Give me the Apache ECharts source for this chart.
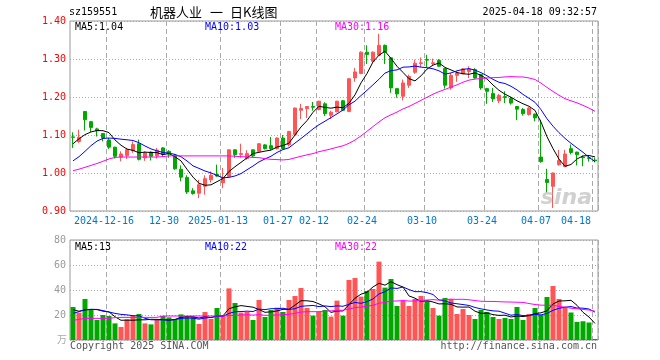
<!DOCTYPE html>
<html><head><meta charset="utf-8">
<script src="https://cdn.jsdelivr.net/npm/echarts@6/dist/echarts.min.js"></script>
<style>html,body{margin:0;padding:0;background:#fff}#c{width:660px;height:360px}</style>
</head><body><div id="c"></div>
<script>
const stockCode = 'sz159551';
const titleParts = ['机器人业', '一', '日K线图'];
const timeStamp = '2025-04-18 09:32:57';

const dates = [
 '2024-12-06','2024-12-09','2024-12-10','2024-12-11','2024-12-12','2024-12-13',
 '2024-12-16','2024-12-17','2024-12-18','2024-12-19','2024-12-20',
 '2024-12-23','2024-12-24','2024-12-25','2024-12-26','2024-12-27',
 '2024-12-30','2024-12-31','2025-01-02','2025-01-03',
 '2025-01-06','2025-01-07','2025-01-08','2025-01-09','2025-01-10',
 '2025-01-13','2025-01-14','2025-01-15','2025-01-16','2025-01-17',
 '2025-01-20','2025-01-21','2025-01-22','2025-01-23','2025-01-24',
 '2025-01-27',
 '2025-02-05','2025-02-06','2025-02-07',
 '2025-02-10','2025-02-11','2025-02-12','2025-02-13','2025-02-14',
 '2025-02-17','2025-02-18','2025-02-19','2025-02-20','2025-02-21',
 '2025-02-24','2025-02-25','2025-02-26','2025-02-27','2025-02-28',
 '2025-03-03','2025-03-04','2025-03-05','2025-03-06','2025-03-07',
 '2025-03-10','2025-03-11','2025-03-12','2025-03-13','2025-03-14',
 '2025-03-17','2025-03-18','2025-03-19','2025-03-20','2025-03-21',
 '2025-03-24','2025-03-25','2025-03-26','2025-03-27','2025-03-28',
 '2025-03-31','2025-04-01','2025-04-02','2025-04-03',
 '2025-04-07','2025-04-08','2025-04-09','2025-04-10','2025-04-11',
 '2025-04-14','2025-04-15','2025-04-16','2025-04-17','2025-04-18'
];

const opens = [
 1.095,1.083,1.162,1.135,1.116,1.104,1.087,1.068,1.042,1.046,
 1.058,1.077,1.040,1.055,1.045,1.066,1.057,1.046,1.010,0.988,
 0.953,0.947,0.965,0.982,0.996,0.974,0.991,1.061,1.049,1.038,
 1.061,1.057,1.074,1.072,1.064,1.092,1.074,1.101,1.165,1.169,
 1.175,1.167,1.182,1.152,1.161,1.190,1.162,1.250,1.262,1.318,
 1.294,1.310,1.336,1.303,1.222,1.202,1.231,1.265,1.288,1.299,
 1.288,1.296,1.275,1.224,1.257,1.261,1.267,1.272,1.259,1.222,
 1.209,1.190,1.201,1.196,1.175,1.167,1.154,1.155,1.042,0.983,
 0.965,1.022,1.017,1.064,1.055,1.042,1.040,1.034
];
const closes = [
 1.094,1.094,1.140,1.120,1.111,1.092,1.068,1.044,1.050,1.061,
 1.075,1.036,1.053,1.044,1.060,1.049,1.050,1.011,0.989,0.950,
 0.946,0.969,0.985,0.994,0.992,0.988,1.061,1.048,1.051,1.051,
 1.045,1.077,1.064,1.064,1.092,1.064,1.109,1.171,1.170,1.175,
 1.173,1.189,1.156,1.160,1.189,1.165,1.248,1.266,1.318,1.312,
 1.318,1.336,1.318,1.224,1.208,1.237,1.254,1.289,1.290,1.297,
 1.290,1.281,1.231,1.257,1.263,1.274,1.274,1.250,1.224,1.215,
 1.195,1.204,1.199,1.184,1.168,1.156,1.171,1.145,1.030,0.975,
 1.000,1.033,1.050,1.054,1.048,1.040,1.038,1.032
];
const lows = [
 1.066,1.079,1.112,1.108,1.096,1.083,1.063,1.038,1.031,1.037,
 1.053,1.033,1.032,1.033,1.038,1.042,1.040,1.008,0.978,0.945,
 0.943,0.934,0.943,0.975,0.990,0.960,0.990,1.040,1.040,1.035,
 1.042,1.056,1.062,1.061,1.062,1.062,1.070,1.100,1.142,1.145,
 1.164,1.165,1.150,1.142,1.160,1.163,1.160,1.240,1.260,1.287,
 1.292,1.308,1.287,1.211,1.198,1.191,1.224,1.261,1.279,1.279,
 1.283,1.279,1.222,1.219,1.240,1.260,1.250,1.248,1.219,1.182,
 1.187,1.184,1.184,1.180,1.139,1.151,1.151,1.136,1.027,0.949,
 0.908,1.019,1.015,1.049,1.020,1.018,1.030,1.028
];
const highs = [
 1.107,1.114,1.162,1.137,1.119,1.105,1.092,1.069,1.057,1.066,
 1.083,1.088,1.057,1.057,1.066,1.068,1.060,1.050,1.020,0.994,
 0.960,0.982,0.994,1.004,1.022,1.013,1.062,1.062,1.077,1.060,
 1.062,1.078,1.076,1.095,1.094,1.100,1.111,1.172,1.182,1.176,
 1.187,1.190,1.186,1.164,1.190,1.192,1.250,1.276,1.320,1.336,
 1.320,1.366,1.338,1.305,1.224,1.246,1.259,1.298,1.304,1.311,
 1.301,1.300,1.276,1.263,1.268,1.276,1.281,1.276,1.260,1.224,
 1.224,1.208,1.215,1.200,1.176,1.171,1.173,1.157,1.140,1.011,
 1.001,1.061,1.061,1.075,1.056,1.046,1.046,1.040
];
// volume (万手)
const volumes = [
 26.4,21.9,32.8,24.5,16.0,20.0,19.2,13.3,10.4,16.5,
 19.7,20.8,13.3,12.5,16.0,19.2,18.1,16.5,20.5,19.2,
 18.7,12.8,22.4,16.8,25.6,19.2,41.3,29.6,21.9,22.4,
 16.0,32.0,18.4,24.0,25.9,22.4,32.0,35.2,41.6,25.6,
 19.5,22.4,24.0,18.7,31.5,19.5,48.0,49.6,34.7,39.2,
 40.8,62.7,41.9,48.8,27.2,31.2,27.2,32.8,35.2,31.2,
 25.6,19.5,33.6,32.8,20.8,24.8,20.0,16.8,24.0,22.4,
 18.4,16.8,17.6,16.8,26.4,16.0,20.8,25.6,20.0,34.4,
 43.2,32.8,26.4,22.0,14.5,15.0,14.0,0.8
];
// moving-average values before enough visible days exist
const ma5Head  = [1.077,1.090,1.101,1.108];
const ma10Head = [1.032,1.043,1.057,1.072,1.084,1.091,1.092,1.091,1.089];
const ma30Head = [1.006,1.010,1.015,1.020,1.025,1.031,1.037,1.041,1.042,1.042,
                  1.042,1.042,1.042,1.042,1.042,1.043,1.045,1.045,1.045,1.045,
                  1.045,1.045,1.045,1.045,1.045,1.045,1.045,1.044,1.043];
const vma5Head  = [24.3,23.0,24.0,24.5];
const vma10Head = [21.3,22.7,24.3,24.5,24.5,23.5,22.4,21.3,20.5];
const vma30Head = [15.7,16.5,17.3,17.3,17.3,17.3,17.3,17.9,18.1,18.1,
                   18.1,18.1,18.1,18.1,18.1,19.2,19.2,19.2,19.2,19.2,
                   19.2,19.2,19.2,19.2,19.2,19.2,19.6,19.8,20.0];

const tickDates  = ['2024-12-16','2024-12-30','2025-01-13','2025-01-27','2025-02-12','2025-02-24','2025-03-10','2025-03-24','2025-04-07','2025-04-18'];
const tickLabels = ['2024-12-16','12-30','2025-01-13','01-27','02-12','02-24','03-10','03-24','04-07','04-18'];
const priceTicks = [0.9, 1.4, 0.1];
const volTicks = [0, 80, 20];

function movingAvg(values, n, head) {
  return values.map((v, i) => {
    if (i < n - 1) return head[i];
    let s = 0;
    for (let k = i - n + 1; k <= i; k++) s += values[k];
    return s / n;
  });
}

const UP = '#ff5555', DOWN = '#00a800';
const MONO = '"DejaVu Sans Mono", monospace';
const CJK = '"Noto Sans CJK SC"';
const tickIdx = tickDates.map(d => dates.indexOf(d));
const tickSet = new Set(tickIdx);

const ma5 = movingAvg(closes, 5, ma5Head);
const ma10 = movingAvg(closes, 10, ma10Head);
const ma30 = movingAvg(closes, 30, ma30Head);
const vma5 = movingAvg(volumes, 5, vma5Head);
const vma10 = movingAvg(volumes, 10, vma10Head);
const vma30 = movingAvg(volumes, 30, vma30Head);
const last = a => a[a.length - 1];

const candleData = dates.map((d, i) => [opens[i], closes[i], lows[i], highs[i]]);
const volData = volumes.map((v, i) => ({ value: v, itemStyle: { color: closes[i] >= opens[i] ? UP : DOWN } }));

const chart = echarts.init(document.getElementById('c'), null, { renderer: 'canvas' });

const gridLine = { show: true, lineStyle: { color: '#aaaaaa', type: [1, 2], width: 1 } };
const vLine = { show: true, interval: (i) => tickSet.has(i), lineStyle: { color: '#aaaaaa', type: [5, 3], width: 1 } };

function lineSeries(data, color, xi, yi) {
  return { type: 'line', data, xAxisIndex: xi, yAxisIndex: yi, symbol: 'none', showSymbol: false,
           lineStyle: { color, width: 1 }, itemStyle: { color }, z: 5, silent: true };
}
function txt(text, x, y, fill, font, align) {
  return { type: 'text', x, y, silent: true, z: 100,
    style: { text, fill, font, textAlign: align || 'left', textVerticalAlign: 'middle', align: align || 'left', verticalAlign: 'middle' } };
}

chart.setOption({
  animation: false,
  backgroundColor: '#fff',
  grid: [
    { left: 70, top: 21, width: 528, height: 190, show: true, borderColor: '#999', borderWidth: 1 },
    { left: 70, top: 240, width: 528, height: 100, show: true, borderColor: '#999', borderWidth: 1 }
  ],
  xAxis: [
    { type: 'category', gridIndex: 0, data: dates, boundaryGap: true,
      axisLine: { show: false }, axisTick: { show: false },
      splitLine: vLine,
      axisLabel: {
        interval: (i) => tickSet.has(i),
        margin: 5, fontFamily: MONO, fontSize: 10, color: '#0077cc',
        formatter: (v, i) => {
          const k = tickIdx.indexOf(i);
          if (k < 0) return '';
          return (k === tickIdx.length - 1 ? '{l|' : '{n|') + tickLabels[k] + '}';
        },
        rich: {
          n: { padding: [0, 10, 0, 0], fontFamily: MONO, fontSize: 10, color: '#0077cc' },
          l: { padding: [0, 38, 0, 0], fontFamily: MONO, fontSize: 10, color: '#0077cc' }
        }
      } },
    { type: 'category', gridIndex: 1, data: dates, boundaryGap: true,
      axisLine: { show: false }, axisTick: { show: false }, axisLabel: { show: false },
      splitLine: vLine }
  ],
  yAxis: [
    { type: 'value', gridIndex: 0, min: priceTicks[0], max: priceTicks[1], interval: priceTicks[2],
      axisLine: { show: false }, axisTick: { show: false }, splitLine: gridLine,
      axisLabel: { color: '#ff0000', fontFamily: MONO, fontSize: 10, margin: 4, formatter: v => v.toFixed(2) } },
    { type: 'value', gridIndex: 1, min: volTicks[0], max: volTicks[1], interval: volTicks[2],
      axisLine: { show: false }, axisTick: { show: false }, splitLine: gridLine,
      axisLabel: { color: '#999999', fontFamily: MONO, fontSize: 10, margin: 4, formatter: v => v === 0 ? '' : String(v) } }
  ],
  series: [
    { type: 'candlestick', xAxisIndex: 0, yAxisIndex: 0, data: candleData, barWidth: 4,
      itemStyle: { color: UP, color0: DOWN, borderColor: UP, borderColor0: DOWN, borderWidth: 1 }, z: 3 },
    lineSeries(ma5, '#000000', 0, 0),
    lineSeries(ma10, '#0000ff', 0, 0),
    lineSeries(ma30, '#ff00ff', 0, 0),
    { type: 'bar', xAxisIndex: 1, yAxisIndex: 1, data: volData, barWidth: 5, z: 3 },
    lineSeries(vma5, '#000000', 1, 1),
    lineSeries(vma10, '#0000ff', 1, 1),
    lineSeries(vma30, '#ff00ff', 1, 1)
  ],
  graphic: [
    txt(stockCode, 69, 12, '#000', '10px ' + MONO),
    txt(titleParts[0], 150, 12, '#000', '13px ' + CJK),
    txt(titleParts[1], 210, 12, '#000', '13px ' + CJK),
    txt(titleParts[2], 230, 12, '#000', '13px ' + CJK),
    txt(timeStamp, 597, 12, '#000', '10px ' + MONO, 'right'),
    txt('MA5:' + last(ma5).toFixed(2), 75, 27, '#000000', '10px ' + MONO),
    txt('MA10:' + last(ma10).toFixed(2), 205, 27, '#0000ff', '10px ' + MONO),
    txt('MA30:' + last(ma30).toFixed(2), 335, 27, '#ff00ff', '10px ' + MONO),
    txt('MA5:' + Math.floor(last(vma5)), 75, 247, '#000000', '10px ' + MONO),
    txt('MA10:' + Math.floor(last(vma10)), 205, 247, '#0000ff', '10px ' + MONO),
    txt('MA30:' + Math.floor(last(vma30)), 335, 247, '#ff00ff', '10px ' + MONO),
    txt('万', 57, 339, '#aaaaaa', '10px ' + CJK),
    txt('Copyright 2025 SINA.COM', 70, 346, '#555555', '10px ' + MONO),
    txt('http://finance.sina.com.cn', 597, 346, '#555555', '10px ' + MONO, 'right'),
    txt('sina', 592, 198, 'rgba(170,170,170,0.55)', 'italic bold 22px "DejaVu Sans"', 'right')
  ]
});
</script></body></html>
